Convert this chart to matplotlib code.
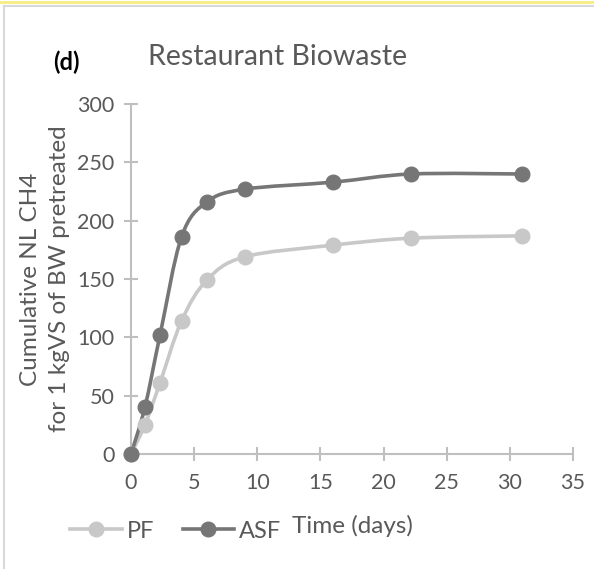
import numpy as np
import matplotlib
matplotlib.use("Agg")
import matplotlib.pyplot as plt
from matplotlib.path import Path
from matplotlib.patches import PathPatch
from matplotlib.lines import Line2D

plt.rcParams['font.family'] = ['Lato', 'DejaVu Sans']

# data
days = [0, 1.1, 2.3, 4.0, 6.0, 9.0, 16.0, 22.2, 31.0]
pf = [0, 25, 61, 114, 149, 169, 179, 185, 187]
asf = [0, 40, 102, 186, 216, 227, 233, 240, 240]

series_names = ["PF", "ASF"]
series_colors = ["#C8C8C8", "#767676"]

title = "Restaurant Biowaste"
panel = "(d)"
ylabel = "Cumulative NL CH4\nfor 1 kgVS of BW pretreated"
xlabel = "Time (days)"

TXT = "#595959"
AXC = "#BFBFBF"


def smooth_path(x, y):
    # excel-like smoothed line: catmull-rom segments as cubic bezier
    p = np.column_stack([x, y]).astype(float)
    n = len(p)
    verts = [p[0]]
    codes = [Path.MOVETO]
    for i in range(n - 1):
        p0 = p[i - 1] if i > 0 else p[i]
        p3 = p[i + 2] if i + 2 < n else p[i + 1]
        c1 = p[i] + (p[i + 1] - p0) / 6.0
        c2 = p[i + 1] - (p3 - p[i]) / 6.0
        verts += [c1, c2, p[i + 1]]
        codes += [Path.CURVE4] * 3
    return Path(verts, codes)


fig = plt.figure(figsize=(5.94, 5.69), dpi=100)
ax = fig.add_axes([131 / 594, 1 - 454 / 569, (573 - 131) / 594, (454 - 104) / 569])

for vals, name, col in zip([pf, asf], series_names, series_colors):
    patch = PathPatch(smooth_path(days, vals), facecolor="none", edgecolor=col,
                      lw=2.6, zorder=2, capstyle="round")
    ax.add_patch(patch)
    ax.plot(days, vals, ls="none", marker="o", ms=10.5, color=col, zorder=3,
            clip_on=False)

ax.set_xlim(0, 35)
ax.set_ylim(0, 300)
ax.set_xticks(np.arange(0, 36, 5))
ax.set_yticks(np.arange(0, 301, 50))
for s in ["top", "right"]:
    ax.spines[s].set_visible(False)
for s in ["left", "bottom"]:
    ax.spines[s].set_color(AXC)
    ax.spines[s].set_linewidth(1.5)
ax.tick_params(direction="inout", length=10, width=1.5, color=AXC,
               labelcolor=TXT, labelsize=15.5)
ax.tick_params(axis="x", pad=9)
ax.tick_params(axis="y", pad=7)

ax.set_xlabel(xlabel, fontsize=17.5, color=TXT, va="center")
ax.xaxis.set_label_coords(0.5, (454 - 526) / 350)
ax.set_ylabel(ylabel, fontsize=17.5, color=TXT, labelpad=5, linespacing=1.45)

fig.text(278 / 594, 1 - 57 / 569, title, fontsize=20.5, color=TXT,
         ha="center", va="center")
fig.text(66 / 594, 1 - 62 / 569, panel, fontsize=17, fontweight="bold",
         color="black", ha="center", va="center")

handles = [Line2D([], [], color=c, lw=2.6, marker="o", ms=10.5) for c in series_colors]
fig.legend(handles, series_names, loc="center left",
           bbox_to_anchor=(70 / 594, 1 - 531 / 569), ncol=2, frameon=False,
           fontsize=17, handlelength=2.2, handletextpad=0.2,
           columnspacing=1.2, borderpad=0, borderaxespad=0, labelcolor=TXT)

# outer chart frame
fig.add_artist(Line2D([4 / 594, 4 / 594], [0, 1 - 6 / 569], color="#D9D9D9", lw=1.5))
fig.add_artist(Line2D([4 / 594, 1], [1 - 6 / 569, 1 - 6 / 569], color="#D9D9D9", lw=1.5))
fig.add_artist(Line2D([0, 1], [1 - 2 / 569, 1 - 2 / 569], color="#F5EE80", lw=2))

fig.savefig("out.png", dpi=100)
